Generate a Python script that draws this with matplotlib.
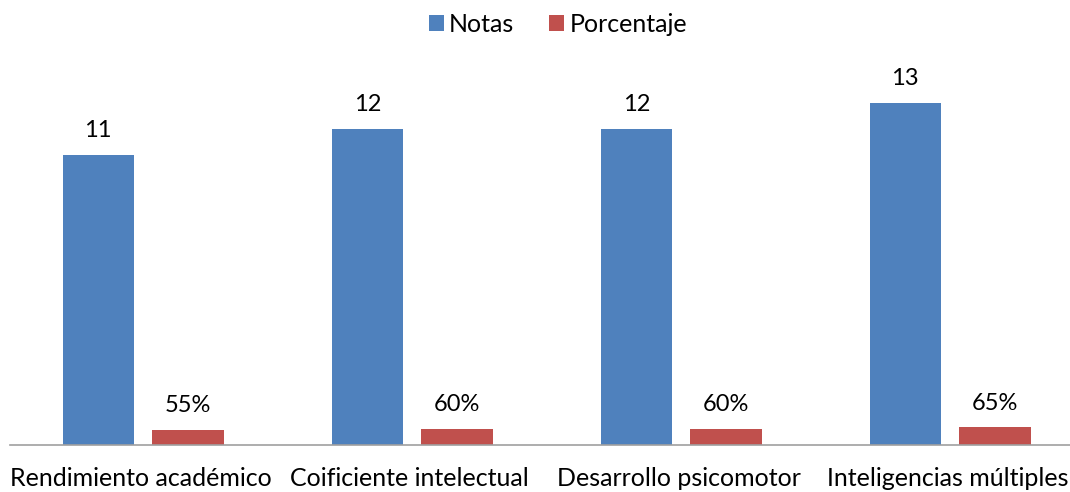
import matplotlib
matplotlib.use("Agg")
import matplotlib.pyplot as plt
import numpy as np

categories = ["Rendimiento académico", "Coificiente intelectual", "Desarrollo psicomotor", "Inteligencias múltiples"]
notas = [11, 12, 12, 13]
porcentaje = [0.55, 0.60, 0.60, 0.65]
porcentaje_labels = ["55%", "60%", "60%", "65%"]
series_names = ["Notas", "Porcentaje"]

plt.rcParams['font.family'] = ['Lato', 'DejaVu Sans']

fig = plt.figure(figsize=(10.7, 4.92), dpi=100)
ax = fig.add_axes([10/1070, (492-444.5)/492, 1060/1070, 368/492])

x = np.arange(len(categories))
w = 0.265
blue = "#4F81BD"
red = "#C0504D"
b1 = ax.bar(x - 0.157, notas, w, color=blue, label=series_names[0])
b2 = ax.bar(x + 0.177, porcentaje, w, color=red, label=series_names[1])

for rect, v in zip(b1, notas):
    ax.annotate(str(v), (rect.get_x() + rect.get_width()/2, rect.get_height()),
                xytext=(0, 10), textcoords="offset points", ha="center", va="bottom", fontsize=17)
for rect, lab in zip(b2, porcentaje_labels):
    ax.annotate(lab, (rect.get_x() + rect.get_width()/2, rect.get_height()),
                xytext=(0, 10), textcoords="offset points", ha="center", va="bottom", fontsize=17)

ax.set_xlim(-0.485, -0.485 + 1060/269)
ax.set_ylim(0, 14)
ax.set_xticks(x)
ax.set_xticklabels(categories, fontsize=18)
ax.tick_params(axis='x', length=0, pad=16)
ax.set_yticks([])
for s in ["top", "right", "left"]:
    ax.spines[s].set_visible(False)
ax.spines["bottom"].set_color("#A0A0A0")
ax.spines["bottom"].set_linewidth(1.2)

fig.legend(handles=[b1, b2], labels=series_names, loc="center", bbox_to_anchor=(558/1070, 1 - 24/492),
           ncol=2, frameon=False, fontsize=18, handlelength=0.6, handleheight=0.6,
           handletextpad=0.2, columnspacing=1.4)

fig.savefig("out.png", dpi=100)
